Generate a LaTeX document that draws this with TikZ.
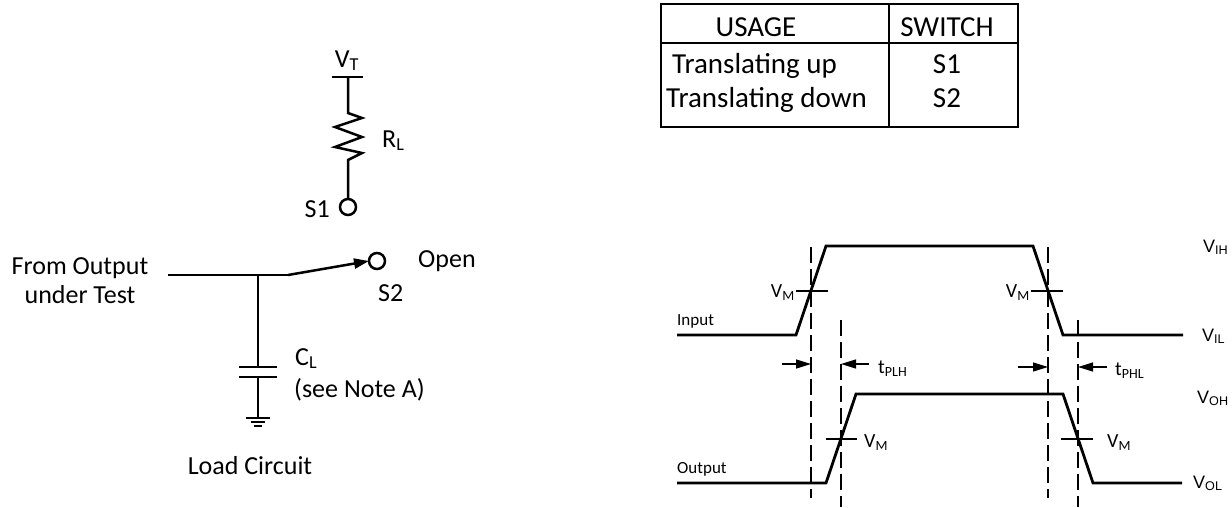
\documentclass[tikz,border=0pt]{standalone}
\usepackage{fontspec}
\setmainfont{Carlito}
\newfontfamily\levelfont{Liberation Sans}
\usetikzlibrary{arrows.meta}
\tikzset{
    wire/.style={line width=2.5pt},
    wave/.style={line width=2.8pt},
    guide/.style={line width=1.3pt, dash pattern=on 16pt off 6pt},
    crossmark/.style={line width=1.3pt},
    delay/.style={line width=1.3pt, -{Triangle[length=15pt,width=9pt]}},
    bigtxt/.style={inner sep=0pt, font=\fontsize{26}{30}\selectfont},
    tabletxt/.style={inner sep=0pt, font=\fontsize{29}{33}\selectfont},
    sigtxt/.style={inner sep=0pt, font=\fontsize{20}{24}\selectfont},
    smalltxt/.style={inner sep=0pt, font=\fontsize{17}{20}\selectfont},
    leveltxt/.style={inner sep=0pt, font=\levelfont\fontsize{18}{21}\selectfont}
}
\begin{document}
\begin{tikzpicture}[x=1pt, y=-1pt]
        \useasboundingbox (0,0) rectangle (1232,507);
        \coordinate (top) at (348,77);
        \coordinate (sonec) at (348,207);
        \coordinate (stwoc) at (377,261);
        \coordinate (pivot) at (288,275);
        \coordinate (join) at (258,275);
        \coordinate (gnd) at (258,418);

        \draw[wire] (332,77) -- (363,77);
        \draw[wire] (top) -- (348,113) -- (362,118) -- (335,127) -- (362,137) -- (335,147) -- (362,153) -- (348,160) -- (348,199);
        \draw[wire, fill=white] (sonec) circle[radius=8pt];
        \draw[wire, fill=white] (stwoc) circle[radius=8pt];
        \draw[wire] (168,275) -- (pivot);
        \draw[wire, -{Triangle[length=15pt,width=10pt]}] (pivot) -- (369,261);
        \draw[wire] (join) -- (258,367);
        \draw[wire] (239,367) -- (277,367);
        \draw[wire] (239,377) -- (277,377);
        \draw[wire] (258,377) -- (gnd);
        \draw[line width=2pt] (246,418) -- (270,418);
        \draw[line width=2pt] (251,422) -- (265,422);
        \draw[line width=2pt] (254,426) -- (262,426);

        \node[bigtxt, anchor=base] (vt) at (347,67) {V\textsubscript{T}};
        \node[bigtxt, anchor=base west] (rl) at (382,147) {R\textsubscript{L}};
        \node[bigtxt, anchor=base east] (sone) at (330,217) {S1};
        \node[bigtxt, anchor=base] (from) at (80,274) {From Output};
        \node[bigtxt, anchor=base] (test) at (80,303) {under Test};
        \node[bigtxt, anchor=base west] (open) at (418,267) {Open};
        \node[bigtxt, anchor=base west] (stwo) at (378,301) {S2};
        \node[bigtxt, anchor=base west] (cl) at (295,365) {C\textsubscript{L}};
        \node[bigtxt, anchor=base west] (note) at (294,397) {(see Note A)};
        \node[bigtxt, anchor=base] (load) at (250,474) {Load Circuit};

        \draw[line width=2pt] (661,4) rectangle (1018,127);
        \draw[line width=1.5pt] (661,43) -- (1018,43);
        \draw[line width=1.5pt] (889,4) -- (889,127);
        \node[tabletxt, anchor=base] (usage) at (756,36) {USAGE};
        \node[tabletxt, anchor=base] (switch) at (947,36) {SWITCH};
        \node[tabletxt, anchor=base west] (up) at (672,73) {Translating up};
        \node[tabletxt, anchor=base] (swone) at (947,73) {S1};
        \node[tabletxt, anchor=base west] (down) at (666,107) {Translating down};
        \node[tabletxt, anchor=base] (swtwo) at (947,107) {S2};

        \draw[wave] (677,335) -- (796,335) -- (826,246) -- (1033,246) -- (1063,335) -- (1183,335);
        \draw[wave] (677,483) -- (826,483) -- (856,394) -- (1063,394) -- (1093,483) -- (1182,483);
        \draw[guide] (811,247) -- (811,498);
        \draw[guide] (841,320) -- (841,507);
        \draw[guide] (1048,247) -- (1048,498);
        \draw[guide] (1078,320) -- (1078,507);
        \draw[crossmark] (796,291) -- (828,291);
        \draw[crossmark] (1031,291) -- (1063,291);
        \draw[crossmark] (826,439) -- (857,439);
        \draw[crossmark] (1061,439) -- (1093,439);
        \draw[delay] (782,364) -- (811,364);
        \draw[delay] (869,364) -- (841,364);
        \draw[delay] (1018,367) -- (1048,367);
        \draw[delay] (1107,367) -- (1078,367);

        \node[sigtxt, anchor=base east] (vmone) at (795,297) {V\textsubscript{M}};
        \node[sigtxt, anchor=base east] (vmtwo) at (1030,297) {V\textsubscript{M}};
        \node[sigtxt, anchor=base west] (vmthree) at (864,447) {V\textsubscript{M}};
        \node[sigtxt, anchor=base west] (vmfour) at (1107,447) {V\textsubscript{M}};
        \node[sigtxt, anchor=base west] (tplh) at (878,373) {t\textsubscript{PLH}};
        \node[sigtxt, anchor=base west] (tphl) at (1115,375) {t\textsubscript{PHL}};
        \node[smalltxt, anchor=base west] (input) at (677,325) {Input};
        \node[smalltxt, anchor=base west] (output) at (677,473) {Output};
        \node[leveltxt, anchor=base west] (vih) at (1203,252) {V\textsubscript{IH}};
        \node[leveltxt, anchor=base west] (vil) at (1202,341) {V\textsubscript{IL}};
        \node[leveltxt, anchor=base west] (voh) at (1197,403) {V\textsubscript{OH}};
        \node[leveltxt, anchor=base west] (vol) at (1193,488) {V\textsubscript{OL}};
\end{tikzpicture}
\end{document}
